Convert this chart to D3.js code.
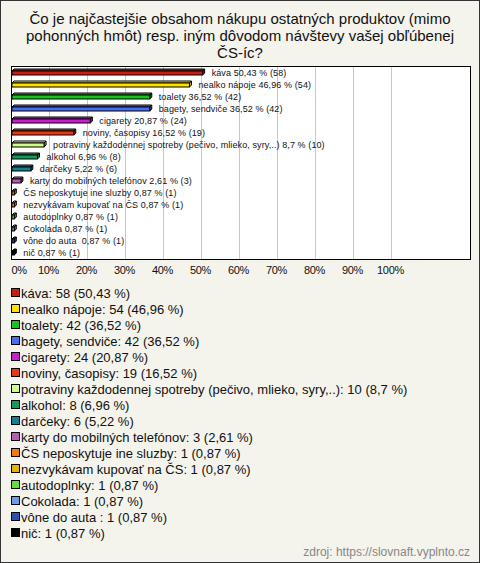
<!DOCTYPE html>
<html><head><meta charset="utf-8">
<script src="https://cdn.jsdelivr.net/npm/d3@7"></script>
<style>
html,body{margin:0;padding:0;background:#f4f3ec;}
svg{display:block;font-family:"Liberation Sans",Arial,sans-serif;}
</style></head>
<body>
<svg id="c" width="480" height="563"></svg>
<script>
const titleLines = ["Čo je najčastejšie obsahom nákupu ostatných produktov (mimo","pohonných hmôt) resp. iným dôvodom návštevy vašej obľúbenej","ČS-íc?"];
const categories = ["káva","nealko nápoje","toalety","bagety, sendviče","cigarety","noviny, časopisy","potraviny každodennej spotreby (pečivo, mlieko, syry,..)","alkohol","darčeky","karty do mobilných telefónov","ČS neposkytuje ine sluzby","nezvykávam kupovať na ČS","autodoplnky","Cokolada","vône do auta ","nič"];
const counts = [58,54,42,42,24,19,10,8,6,3,1,1,1,1,1,1];
const percents = [50.43,46.96,36.52,36.52,20.87,16.52,8.7,6.96,5.22,2.61,0.87,0.87,0.87,0.87,0.87,0.87];
const colors = ["#c81e0f","#ffe000","#19c21d","#4a6cf0","#c91fd0","#e23a12","#cdfd88","#129c5a","#167f8f","#b95ab9","#ee7a10","#e6b400","#5fe03a","#6a9bea","#2d4fb5","#000000"];
const tickValues = [0,10,20,30,40,50,60,70,80,90,100];
const source = "zdroj: https://slovnaft.vyplnto.cz";

(function(){
const fmt = v => String(v).replace(".", ",");
const data = categories.map((c,i)=>({name:c,count:counts[i],pct:percents[i],color:colors[i]}));

const svg = d3.select("#c");
svg.append("rect").attr("x",0.5).attr("y",0.5).attr("width",479).attr("height",562)
  .attr("fill","#f4f3ec").attr("stroke","#333");

svg.append("g").selectAll("text").data(titleLines).join("text")
  .attr("x",240).attr("y",(d,i)=>24+i*17).attr("text-anchor","middle")
  .attr("font-size",15).attr("fill","#111").text(d=>d);

const pL=11, pR=471, pT=66, pB=258;
const x = d3.scaleLinear().domain([0,100]).range([pL,391]);
const y = d3.scaleBand().domain(categories).range([pT,pB]).paddingInner(0.5).paddingOuter(0.25);

svg.append("rect").attr("x",pL+0.5).attr("y",pT+0.5).attr("width",pR-pL-1).attr("height",pB-pT+1)
  .attr("fill","#fff");
svg.append("g").selectAll("line").data(tickValues.slice(1)).join("line")
  .attr("x1",d=>Math.round(x(d))+0.5).attr("x2",d=>Math.round(x(d))+0.5)
  .attr("y1",pT).attr("y2",pB+1).attr("stroke","#c8c8c8");
svg.append("rect").attr("x",pL+0.5).attr("y",pT+0.5).attr("width",pR-pL-1).attr("height",pB-pT+1)
  .attr("fill","none").attr("stroke","#000");

const ax = d3.axisBottom(x).tickValues(tickValues).tickFormat(d=>d+"%").tickSize(0).tickPadding(0);
const axg = svg.append("g").attr("transform",`translate(0,${266})`).call(ax);
axg.select(".domain").remove();
axg.selectAll("text").attr("font-size",11).attr("fill","#111").attr("dy","0.71em")
  .attr("font-family","\"Liberation Sans\",Arial,sans-serif").style("letter-spacing","-0.3px")
  .attr("text-anchor",d=>d===0?"start":"middle").attr("x",d=>d===0?0:-1);

const d0 = 2;
const bars = svg.append("g");
data.forEach(d=>{
  const x0 = x(0)+1, w = Math.max(1.5, x(d.pct)-x(0)-1);
  const yb = y(d.name), h = y.bandwidth()-d0;
  const g = bars.append("g");
  const c = d3.color(d.color);
  g.append("polygon").attr("points",[[x0,yb+d0],[x0+d0,yb],[x0+w+d0,yb],[x0+w,yb+d0]].join(" "))
    .attr("fill",c.brighter(0.3)).attr("stroke","#000").attr("stroke-width",1);
  g.append("polygon").attr("points",[[x0+w,yb+d0],[x0+w+d0,yb],[x0+w+d0,yb+h],[x0+w,yb+h+d0]].join(" "))
    .attr("fill",c.darker(0.8)).attr("stroke","#000").attr("stroke-width",1);
  g.append("rect").attr("x",x0).attr("y",yb+d0).attr("width",w).attr("height",h)
    .attr("fill",d.color).attr("stroke","#000").attr("stroke-width",1);
  svg.append("text").attr("x",x0+w+d0+7).attr("y",yb+y.bandwidth()/2+1).attr("dy","0.35em")
    .attr("font-size",9).attr("fill","#111").style("letter-spacing","0.1px").style("white-space","pre")
    .text(`${d.name} ${fmt(d.pct)} % (${d.count})`);
});

const lg = svg.append("g");
data.forEach((d,i)=>{
  const cy = 293 + i*16;
  lg.append("rect").attr("x",11.5).attr("y",cy-4.5).attr("width",8).attr("height",8)
    .attr("fill",d.color).attr("stroke","#000");
  lg.append("text").attr("x",21).attr("y",cy).attr("dy","0.35em").attr("font-size",13).attr("fill","#111")
    .text(`${d.name}: ${d.count} (${fmt(d.pct)} %)`);
});

svg.append("text").attr("x",470).attr("y",556).attr("text-anchor","end").attr("font-size",12)
  .attr("fill","#888").text(source);
})();
</script>
</body></html>
